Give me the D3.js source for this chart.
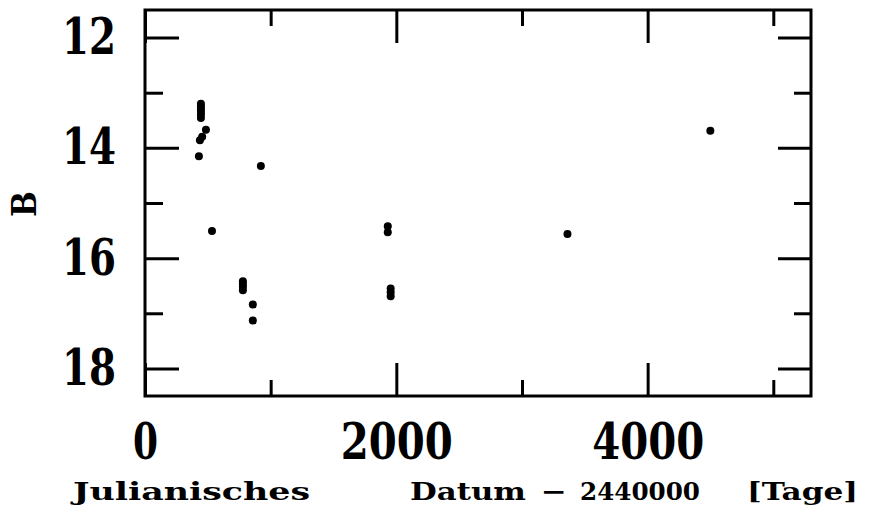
<!DOCTYPE html>
<html>
<head>
<meta charset="utf-8">
<script src="https://cdn.jsdelivr.net/npm/d3@7"></script>
<style>
	body { margin: 0; background: #fff; }
	svg { display: block; }
	.lbl { font-family: 'DejaVu Serif Condensed', 'DejaVu Serif', serif; font-stretch: condensed; font-weight: bold; fill: #000; }
</style>
</head>
<body>
<div id="chart"></div>
<script>
// observations: julian date - 2440000 and B magnitude
const jd = [445, 445, 445, 445, 445, 445, 485, 437, 455, 429, 922, 533, 779, 779, 779, 779, 858, 858, 1932, 1932, 1955, 1955, 1955, 3362, 4499];
const bmag = [13.2, 13.25, 13.3, 13.35, 13.4, 13.46, 13.67, 13.86, 13.8, 14.15, 14.33, 15.51, 16.42, 16.47, 16.52, 16.58, 16.84, 17.13, 15.42, 15.53, 16.55, 16.62, 16.69, 15.56, 13.69];

const xMajor = [0, 2000, 4000];
const xMinor = [1000, 3000, 5000];
const yMajor = [12, 14, 16, 18];
const yMinor = [13, 15, 17];

const xTitle = [
	['Julianisches', 73, 310],
	['Datum', 410, 526],
	['\u2212', 541, 567],
	['2440000', 580, 700],
	['[Tage]', 747, 858],
];

const width = 869, height = 515;
const mLeft = 145, mRight = 811, mTop = 10, mBottom = 396;

const x = d3.scaleLinear().domain([0, 5300]).range([mLeft, mRight]);
const y = d3.scaleLinear().domain([11.5, 18.5]).range([mTop, mBottom]);

const svg = d3.select('#chart').append('svg').attr('width', width).attr('height', height);

// ticks on all four sides, pointing inward
function ticks(axis, vals, len, tx, ty) {
	const g = svg.append('g')
		.attr('transform', `translate(${tx},${ty})`)
		.call(axis.tickValues(vals).tickSize(-len).tickSizeOuter(0).tickFormat(''));
	g.select('.domain').remove();
	g.selectAll('line').attr('stroke', '#000').attr('stroke-width', 3);
	return g;
}
ticks(d3.axisBottom(x), xMajor, 33, 0, mBottom);
ticks(d3.axisBottom(x), xMinor, 16, 0, mBottom);
ticks(d3.axisTop(x), xMajor, 33, 0, mTop);
ticks(d3.axisTop(x), xMinor, 16, 0, mTop);
ticks(d3.axisLeft(y), yMajor, 34, mLeft, 0);
ticks(d3.axisLeft(y), yMinor, 18, mLeft, 0);
ticks(d3.axisRight(y), yMajor, 33, mRight, 0);
ticks(d3.axisRight(y), yMinor, 17, mRight, 0);

// frame
svg.append('rect')
	.attr('x', mLeft).attr('y', mTop)
	.attr('width', mRight - mLeft).attr('height', mBottom - mTop)
	.attr('fill', 'none').attr('stroke', '#000').attr('stroke-width', 3);

// tick labels (squeezed a bit, the original font is narrower)
const labelLen = (s) => 29 * String(s).length - 4;

const xl = svg.append('g').attr('transform', `translate(0,${mBottom})`)
	.call(d3.axisBottom(x).tickValues(xMajor).tickSize(0).tickPadding(27).tickFormat(d3.format('d')));
xl.select('.domain').remove();
xl.selectAll('text').attr('class', 'lbl').style('font-size', '50px')
	.attr('textLength', (d) => labelLen(d)).attr('lengthAdjust', 'spacingAndGlyphs');

const yl = svg.append('g').attr('transform', `translate(${mLeft},0)`)
	.call(d3.axisLeft(y).tickValues(yMajor).tickSize(0).tickPadding(29).tickFormat(d3.format('d')));
yl.select('.domain').remove();
yl.selectAll('text').attr('class', 'lbl').style('font-size', '50px')
	.attr('textLength', (d) => labelLen(d)).attr('lengthAdjust', 'spacingAndGlyphs');

// axis titles
svg.append('g').selectAll('text')
	.data(xTitle)
	.join('text')
	.attr('class', 'lbl')
	.attr('x', (d) => d[1])
	.attr('y', 500)
	.attr('textLength', (d) => d[2] - d[1])
	.attr('lengthAdjust', 'spacingAndGlyphs')
	.style('font-size', '25px')
	.text((d) => d[0]);

svg.append('text')
	.attr('class', 'lbl')
	.attr('transform', 'translate(36,204) rotate(-90)')
	.attr('text-anchor', 'middle')
	.style('font-size', '34px')
	.text('B');

// data points
svg.append('g').selectAll('circle')
	.data(d3.range(jd.length))
	.join('circle')
	.attr('cx', (i) => x(jd[i]))
	.attr('cy', (i) => y(bmag[i]))
	.attr('r', 4)
	.attr('fill', '#000');
</script>
</body>
</html>
